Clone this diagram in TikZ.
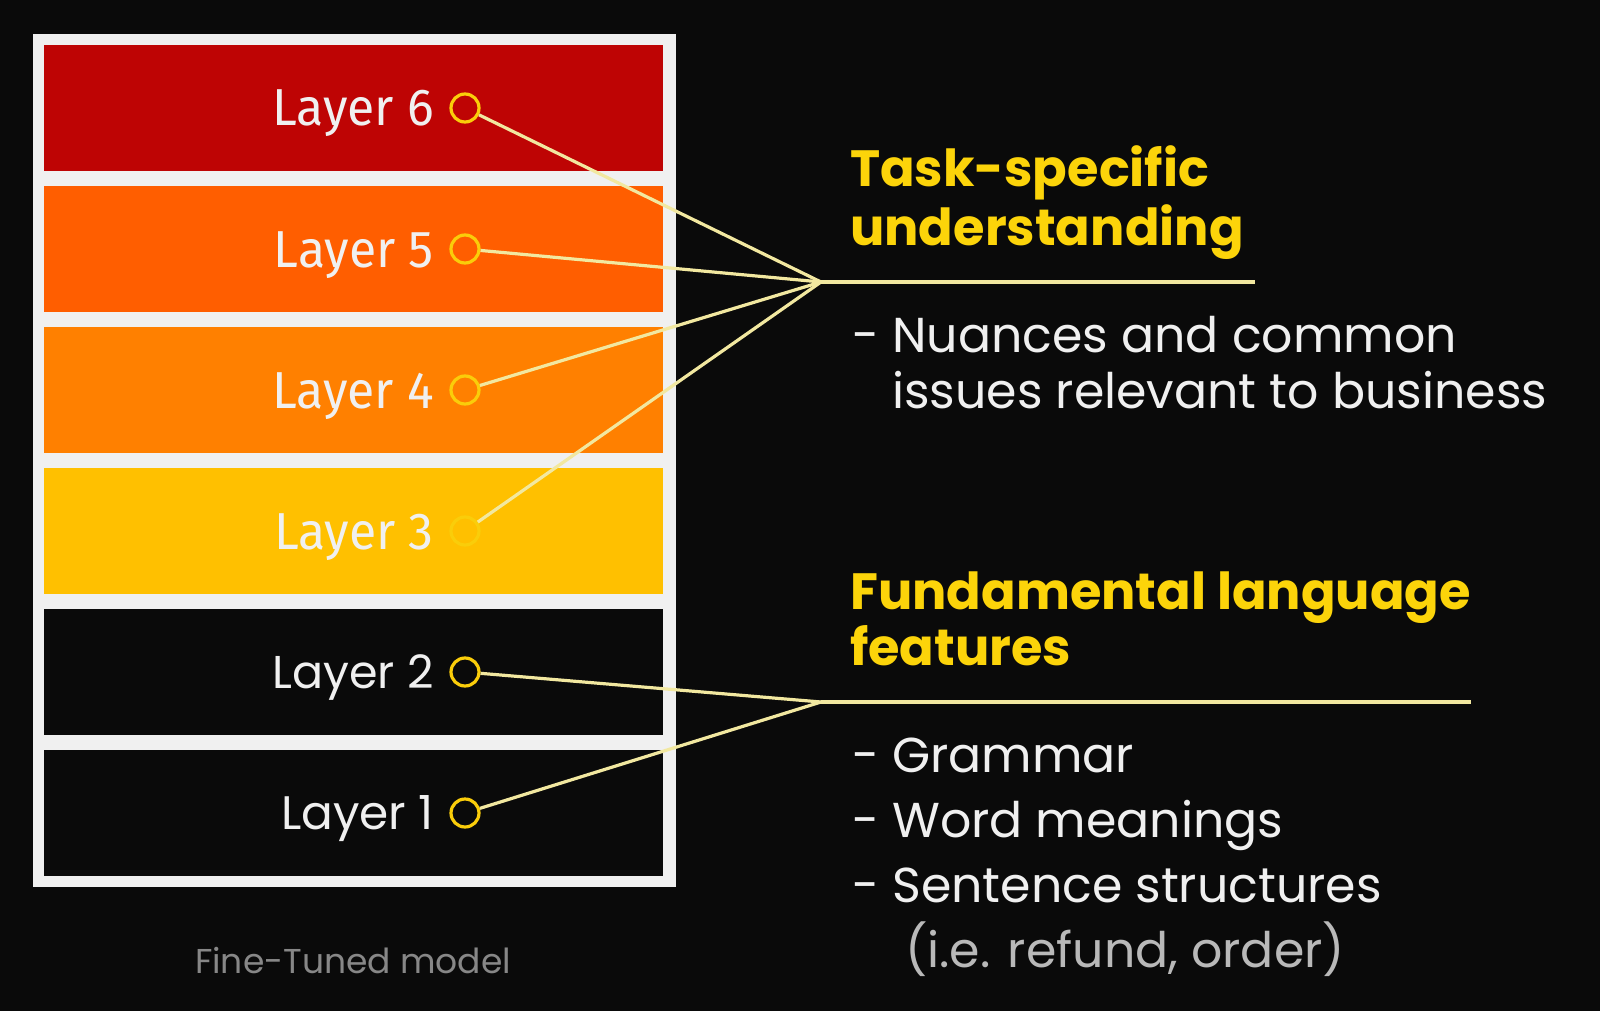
\documentclass[tikz,border=0pt]{standalone}
\usepackage{fontspec}
\setmainfont{Poppins}
\newfontfamily\condfont[FakeStretch=0.96]{Fira Sans}
\usetikzlibrary{positioning}
\definecolor{bg}{RGB}{10,10,10}
\definecolor{frame}{RGB}{240,240,240}
\definecolor{l6}{RGB}{190,4,4}
\definecolor{l5}{RGB}{255,94,0}
\definecolor{l4}{RGB}{255,128,0}
\definecolor{l3}{RGB}{255,192,0}
\definecolor{l2}{RGB}{10,10,10}
\definecolor{l1}{RGB}{10,10,10}
\definecolor{ring}{RGB}{250,205,10}
\definecolor{wire}{RGB}{242,232,160}
\definecolor{head}{RGB}{252,212,10}
\definecolor{body}{RGB}{240,240,240}
\definecolor{note}{RGB}{185,185,185}
\definecolor{caption}{RGB}{135,135,135}

\begin{document}
\begin{tikzpicture}[x=1pt,y=-1pt,
  layerbox/.style={inner sep=0, minimum width=619pt, minimum height=126pt, anchor=north west},
  ring/.style={circle, draw=ring, line width=3.2pt, minimum size=28pt, inner sep=0},
  wire/.style={draw=wire, line width=3.2pt},
  lbl/.style={inner sep=0, anchor=base east, text=body},
  heading/.style={inner sep=0, anchor=base west, text=head, font=\fontsize{51}{60}\bfseries},
  item/.style={inner sep=0, anchor=base west, text=body, font=\fontsize{49}{58}\selectfont}]

% Background and frame
\useasboundingbox[fill=bg] (0,0) rectangle (1600,1011);
\fill[frame] (33,34) rectangle (676,887);

% Layers
\foreach \n/\col/\fnt/\sz/\dy [count=\i from 0] in {6/l6/\condfont/52/18, 5/l5/\condfont/52/18,
    4/l4/\condfont/52/18, 3/l3/\condfont/52/18, 2/l2/\relax/46/16, 1/l1/\relax/47/16}{
  \pgfmathsetmacro{\top}{45+141*\i}
  \pgfmathsetmacro{\mid}{\top+63}
  \node[layerbox, fill=\col] (layer\n) at (44,\top) {};
  \node[ring] (c\n) at (465,\mid) {};
  \node[lbl, font={\fnt\fontsize{\sz}{60}\selectfont}] (txt\n) at (434,\mid+\dy) {Layer \n};
}

\node[inner sep=0, anchor=base, text=caption, font=\fontsize{34.5}{40}\selectfont]
  (caption) at (353,973) {Fine-Tuned model};

% Hubs
\coordinate (hubT) at (821,282);
\coordinate (endT) at (1255,282);
\coordinate (hubF) at (821,702);
\coordinate (endF) at (1471,702);

\foreach \n in {3,...,6}
  \draw[wire] (c\n) -- (hubT);
\draw[wire] (hubT) -- (endT);
\foreach \n in {1,2}
  \draw[wire] (c\n) -- (hubF);
\draw[wire] (hubF) -- (endF);

% Task-specific block
\node[heading] (taskA) at (850,187) {Task-specific};
\node[heading] (taskB) at (850,245) {understanding};
\node[item] (nuanA) at (852,352) {- Nuances and common};
\node[item] (nuanB) at (852,408) {\phantom{- }issues relevant to business};

% Fundamental block
\node[heading] (fundA) at (850,609) {Fundamental language};
\node[heading] (fundB) at (850,665) {features};
\node[item] (gram) at (852,772) {- Grammar};
\node[item] (word) at (852,837) {- Word meanings};
\node[item] (sent) at (852,902) {- Sentence structures};
\node[item, text=note] (ie) at (905,967) {(i.e. refund, order)};

\end{tikzpicture}
\end{document}
